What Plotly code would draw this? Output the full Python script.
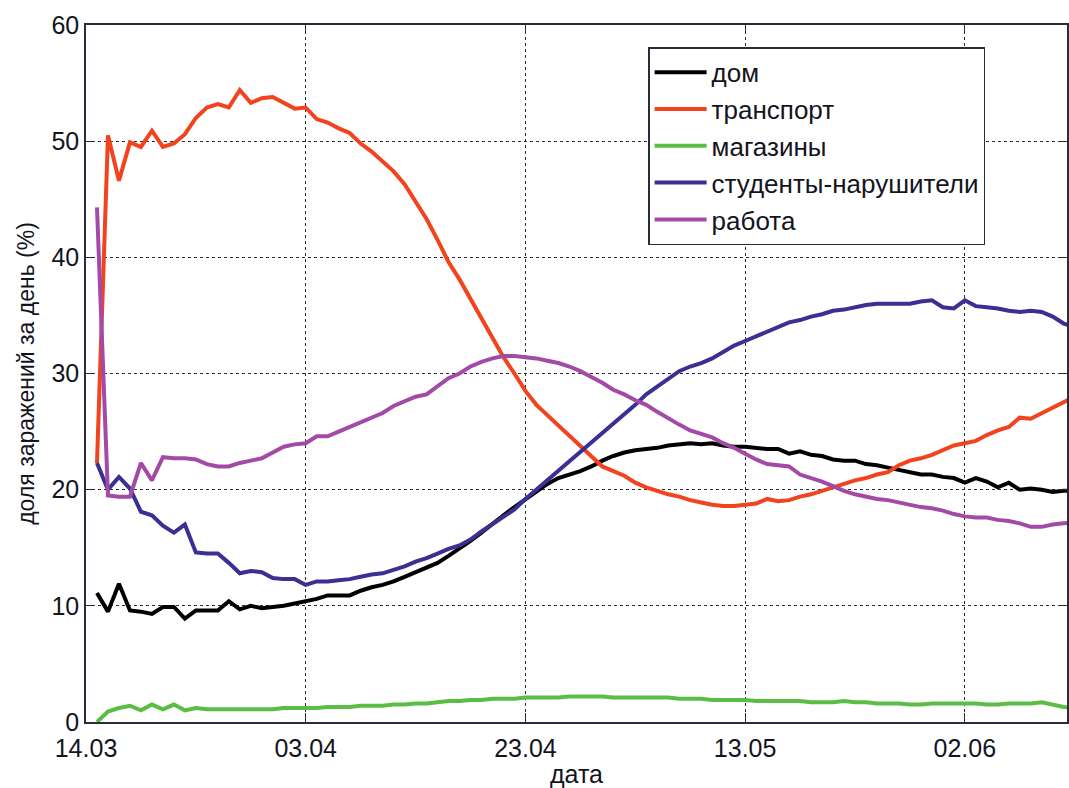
import pandas as pd
import plotly.graph_objects as go

# Daily share of infections by place (percent), starting 15.03
dates = pd.date_range("2020-03-15", periods=90, freq="D")

dom = [
    11.1, 9.5, 11.9, 9.6, 9.5, 9.3, 9.9, 9.9, 8.9, 9.6,
    9.6, 9.6, 10.4, 9.7, 10.0, 9.8, 9.9, 10.0, 10.2, 10.4,
    10.6, 10.9, 10.9, 10.9, 11.3, 11.6, 11.8, 12.1, 12.5, 12.9,
    13.3, 13.7, 14.3, 14.9, 15.6, 16.3, 17.1, 17.8, 18.5, 19.2,
    19.9, 20.5, 21.0, 21.3, 21.6, 22.0, 22.5, 22.9, 23.2, 23.4,
    23.5, 23.6, 23.8, 23.9, 24.0, 23.9, 24.0, 23.8, 23.7, 23.7,
    23.6, 23.5, 23.5, 23.1, 23.3, 23.0, 22.9, 22.6, 22.5, 22.5,
    22.2, 22.1, 21.9, 21.7, 21.5, 21.3, 21.3, 21.1, 21.0, 20.6,
    21.0, 20.7, 20.2, 20.6, 20.0, 20.1, 20.0, 19.8, 19.9, 19.9,
]

transport = [
    22.3, 50.5, 46.6, 49.9, 49.5, 50.9, 49.5, 49.8, 50.6, 52.0,
    52.9, 53.2, 52.9, 54.4, 53.3, 53.7, 53.8, 53.3, 52.8, 52.9,
    51.9, 51.6, 51.1, 50.7, 49.8, 49.1, 48.3, 47.4, 46.3, 44.8,
    43.3, 41.5, 39.6, 38.1, 36.4, 34.8, 33.0, 31.4, 30.0, 28.5,
    27.3, 26.4, 25.5, 24.7, 23.7, 22.8, 22.0, 21.6, 21.2, 20.6,
    20.2, 19.9, 19.6, 19.4, 19.1, 18.9, 18.7, 18.6, 18.6, 18.7,
    18.8, 19.2, 19.0, 19.1, 19.4, 19.6, 19.9, 20.2, 20.5, 20.8,
    21.0, 21.3, 21.5, 22.1, 22.5, 22.7, 23.0, 23.4, 23.8, 24.0,
    24.2, 24.7, 25.1, 25.4, 26.2, 26.1, 26.6, 27.1, 27.6, 28.0,
]

shops = [
    0.0, 0.9, 1.2, 1.4, 1.0, 1.5, 1.1, 1.5, 1.0, 1.2,
    1.1, 1.1, 1.1, 1.1, 1.1, 1.1, 1.1, 1.2, 1.2, 1.2,
    1.2, 1.3, 1.3, 1.3, 1.4, 1.4, 1.4, 1.5, 1.5, 1.6,
    1.6, 1.7, 1.8, 1.8, 1.9, 1.9, 2.0, 2.0, 2.0, 2.1,
    2.1, 2.1, 2.1, 2.2, 2.2, 2.2, 2.2, 2.1, 2.1, 2.1,
    2.1, 2.1, 2.1, 2.0, 2.0, 2.0, 1.9, 1.9, 1.9, 1.9,
    1.8, 1.8, 1.8, 1.8, 1.8, 1.7, 1.7, 1.7, 1.8, 1.7,
    1.7, 1.6, 1.6, 1.6, 1.5, 1.5, 1.6, 1.6, 1.6, 1.6,
    1.6, 1.5, 1.5, 1.6, 1.6, 1.6, 1.7, 1.5, 1.3, 1.2,
]

students = [
    22.3, 20.0, 21.1, 20.1, 18.1, 17.8, 16.9, 16.3, 17.0, 14.6,
    14.5, 14.5, 13.7, 12.8, 13.0, 12.9, 12.4, 12.3, 12.3, 11.8,
    12.1, 12.1, 12.2, 12.3, 12.5, 12.7, 12.8, 13.1, 13.4, 13.8,
    14.1, 14.5, 14.9, 15.2, 15.7, 16.4, 17.0, 17.6, 18.3, 19.2,
    20.0, 20.8, 21.6, 22.5, 23.3, 24.0, 24.8, 25.6, 26.5, 27.3,
    28.2, 28.9, 29.6, 30.2, 30.6, 30.9, 31.3, 31.9, 32.4, 32.8,
    33.2, 33.6, 34.0, 34.4, 34.6, 34.9, 35.1, 35.4, 35.5, 35.7,
    35.9, 36.0, 36.0, 36.0, 36.0, 36.2, 36.3, 35.7, 35.6, 36.3,
    35.8, 35.7, 35.6, 35.4, 35.3, 35.4, 35.3, 34.9, 34.3, 34.0,
]

work = [
    44.3, 19.5, 19.4, 19.4, 22.3, 20.8, 22.8, 22.7, 22.7, 22.6,
    22.2, 22.0, 22.0, 22.3, 22.5, 22.7, 23.2, 23.7, 23.9, 24.0,
    24.6, 24.6, 25.0, 25.4, 25.8, 26.2, 26.6, 27.2, 27.6, 28.0,
    28.2, 28.9, 29.6, 30.0, 30.6, 31.0, 31.3, 31.5, 31.5, 31.4,
    31.3, 31.1, 30.9, 30.6, 30.2, 29.7, 29.2, 28.6, 28.2, 27.7,
    27.3, 26.7, 26.1, 25.6, 25.1, 24.8, 24.5, 24.0, 23.6, 23.1,
    22.6, 22.2, 22.1, 22.0, 21.3, 21.0, 20.7, 20.3, 19.9, 19.6,
    19.4, 19.2, 19.1, 18.9, 18.7, 18.5, 18.4, 18.2, 17.9, 17.7,
    17.6, 17.6, 17.4, 17.3, 17.1, 16.8, 16.8, 17.0, 17.1, 17.2,
]

series = [
    ("дом", dom, "#000000"),
    ("транспорт", transport, "#F2431F"),
    ("магазины", shops, "#5CBD45"),
    ("студенты-нарушители", students, "#3A2F93"),
    ("работа", work, "#A24AA6"),
]

tick_dates = ["2020-03-14", "2020-04-03", "2020-04-23", "2020-05-13", "2020-06-02"]
tick_labels = ["14.03", "03.04", "23.04", "13.05", "02.06"]

FONT = "Liberation Sans, Arial, sans-serif"
INK = "#14141e"
GRID = "#2a2a38"

fig = go.Figure()
for name, values, color in series:
    fig.add_trace(go.Scatter(
        x=dates, y=values, mode="lines", name=name,
        line=dict(color=color, width=4),
    ))

axis_common = dict(
    showline=True, linecolor=GRID, linewidth=1.5,
    ticks="inside", ticklen=9, tickcolor=GRID, tickwidth=1,
    showgrid=True, gridcolor=GRID, gridwidth=1, griddash="3px,3px",
    zeroline=False,
    tickfont=dict(family=FONT, size=25, color=INK),
)

fig.update_xaxes(
    type="date",
    range=["2020-03-14", pd.Timestamp("2020-03-14") + pd.Timedelta(days=89.3)],
    tickvals=tick_dates, ticktext=tick_labels,
    mirror="ticks", ticklabelstandoff=3,
    title=dict(text="дата", font=dict(family=FONT, size=25, color=INK), standoff=2),
    **axis_common,
)
fig.update_yaxes(
    range=[0, 60], tickvals=[0, 10, 20, 30, 40, 50, 60],
    mirror="ticks",
    title=dict(text="доля заражений за день (%)", font=dict(family=FONT, size=23, color=INK), standoff=10),
    **axis_common,
)

fig.update_layout(
    width=1069, height=788,
    margin=dict(l=86, r=0, t=25, b=66),
    paper_bgcolor="white", plot_bgcolor="white",
    font=dict(family=FONT, color=INK),
    legend=dict(
        x=0.573, y=0.968, xanchor="left", yanchor="top",
        bgcolor="white", bordercolor=GRID, borderwidth=1.5,
        font=dict(family=FONT, size=26, color=INK),
        tracegroupgap=0, itemwidth=52,
    ),
)

fig.write_html("out.html")
